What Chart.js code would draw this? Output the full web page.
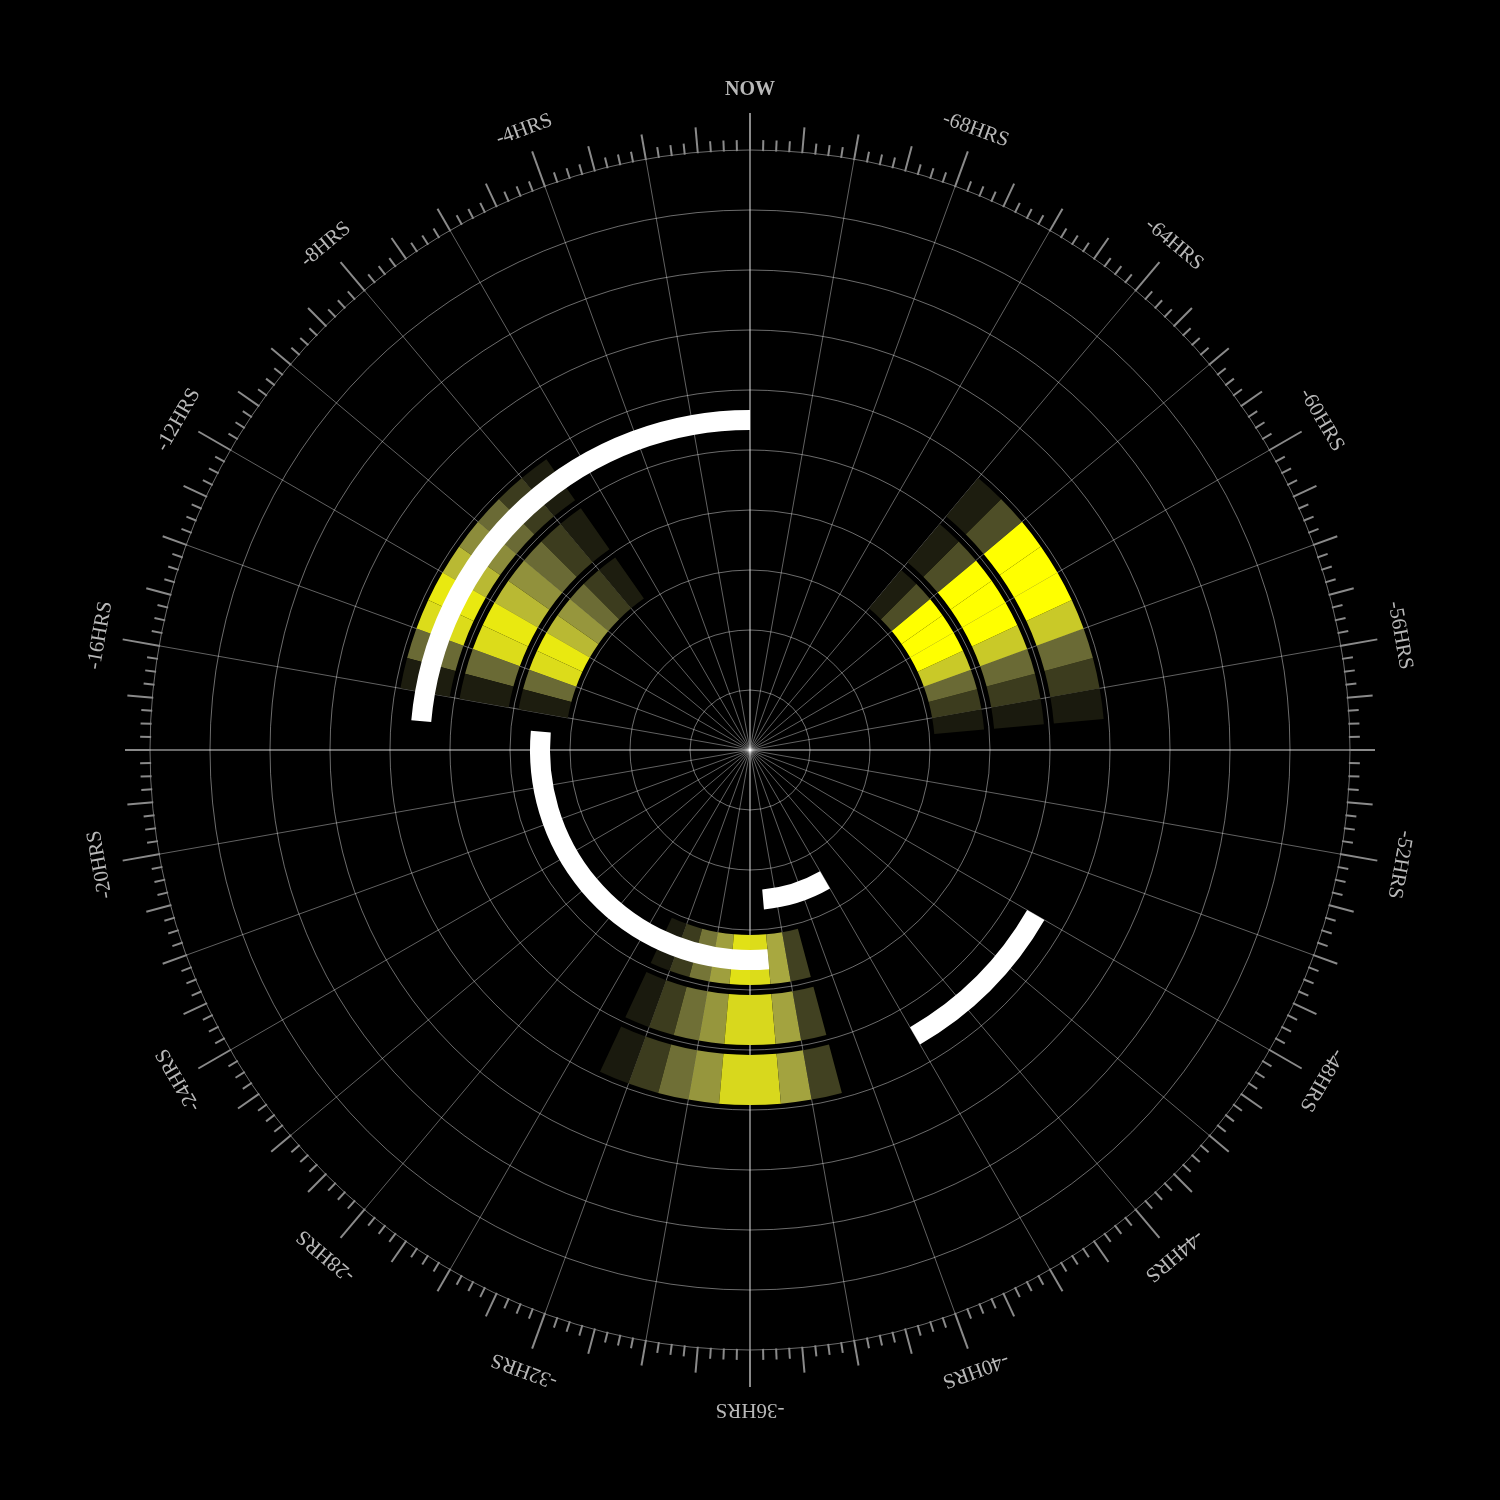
<!DOCTYPE html>
<html>
<head>
<meta charset="utf-8">
<title>72 hour clock</title>
<script src="https://cdn.jsdelivr.net/npm/chart.js@4.4.1/dist/chart.umd.min.js"></script>
<style>
  html, body { margin: 0; padding: 0; background: #000; }
  #wrap { width: 1500px; height: 1500px; }
</style>
</head>
<body>
<div id="wrap"><canvas id="clock"></canvas></div>
<script>
// one radar label per hour, going back 72 hours (time runs anticlockwise)
const HOURS = 72;
const hourLabels = ['NOW', '-4HRS', '-8HRS', '-12HRS', '-16HRS', '-20HRS', '-24HRS', '-28HRS', '-32HRS',
                    '-36HRS', '-40HRS', '-44HRS', '-48HRS', '-52HRS', '-56HRS', '-60HRS', '-64HRS', '-68HRS'];

// hours ago of each coloured cell (cell covers hour h .. h+1)
const cellHours = [7, 8, 9, 10, 11, 12, 13, 14, 15,
                   31, 32, 33, 34, 35, 36, 37, 38,
                   55, 56, 57, 58, 59, 60, 61, 62, 63];

// intensity 0..1 for the three rings, inner to outer
const innerRing  = [0.03, 0.15, 0.34, 0.52, 0.68, 0.90, 0.84, 0.33, 0.03,
                    0.02, 0.15, 0.38, 0.56, 0.86, 0.84, 0.60, 0.17,
                    0.02, 0.15, 0.33, 0.75, 1, 1, 1, 0.22, 0.03];
const middleRing = [0.03, 0.15, 0.33, 0.50, 0.68, 0.90, 0.84, 0.33, 0.03,
                    0.02, 0.15, 0.35, 0.52, 0.82, 0.82, 0.58, 0.17,
                    0.02, 0.15, 0.33, 0.75, 1, 1, 1, 0.22, 0.03];
const outerRing  = [0.03, 0.15, 0.33, 0.48, 0.68, 0.90, 0.84, 0.33, 0.03,
                    0.02, 0.15, 0.35, 0.52, 0.82, 0.82, 0.58, 0.17,
                    0.02, 0.15, 0.33, 0.75, 1, 1, 1, 0.22, 0.03];
const ringBase = [3, 4, 5]; // value on r scale where each ring starts

// white trace, stepped
const traceFrom  = [0, 17, 37, 42];
const traceTo    = [17, 37, 42, 48];
const traceLevel = [5.5, 3.5, 2.5, 5.5];

// colour stops: dark olive -> olive -> yellow
const stops = [
    [0, [21, 21, 11]],
    [0.33, [106, 106, 53]],
    [0.6, [168, 168, 64]],
    [1, [255, 255, 0]]
];

function heatColor(t) {
    for (let i = 1; i < stops.length; i++) {
        if (t <= stops[i][0]) {
            const [t0, c0] = stops[i - 1];
            const [t1, c1] = stops[i];
            const f = (t - t0) / (t1 - t0);
            const c = c0.map((v, k) => Math.round(v + (c1[k] - v) * f));
            return `rgb(${c[0]},${c[1]},${c[2]})`;
        }
    }
    return 'rgb(255,255,0)';
}

// canvas angle for a number of hours back
function hourAngle(scale, h) {
    return scale.getIndexAngle(0) - h * (2 * Math.PI / HOURS) - Math.PI / 2;
}

const clockFace = {
    id: 'clockFace',
    beforeDatasetsDraw(chart) {
        const r = chart.scales.r;
        const ctx = chart.ctx;
        const cx = r.xCenter, cy = r.yCenter;
        ctx.save();

        [innerRing, middleRing, outerRing].forEach((ring, ri) => {
            const r0 = r.getDistanceFromCenterForValue(ringBase[ri]) + 5;
            const r1 = r.getDistanceFromCenterForValue(ringBase[ri] + 1) - 5;
            ring.forEach((v, i) => {
                const a0 = hourAngle(r, cellHours[i]);
                const a1 = hourAngle(r, cellHours[i] + 1);
                ctx.beginPath();
                ctx.arc(cx, cy, r1, a0, a1, true);
                ctx.arc(cx, cy, r0, a1, a0, false);
                ctx.closePath();
                ctx.fillStyle = heatColor(v);
                ctx.fill();
            });
        });

        ctx.strokeStyle = '#ffffff';
        ctx.lineCap = 'butt';
        ctx.lineWidth = 20;
        traceLevel.forEach((lv, i) => {
            const rad = r.getDistanceFromCenterForValue(lv);
            ctx.beginPath();
            ctx.arc(cx, cy, rad, hourAngle(r, traceFrom[i]), hourAngle(r, traceTo[i]), true);
            ctx.stroke();
        });
        ctx.restore();
    },
    afterDraw(chart) {
        const r = chart.scales.r;
        const ctx = chart.ctx;
        const cx = r.xCenter, cy = r.yCenter;
        const base = r.getDistanceFromCenterForValue(r.max);
        ctx.save();

        // quarter hour ticks
        ctx.strokeStyle = '#8a8a8a';
        ctx.lineWidth = 2;
        for (let q = 0; q < HOURS * 4; q++) {
            const a = hourAngle(r, q / 4);
            const len = q % 16 === 0 ? 37 : (q % 4 === 0 ? 25 : 10);
            ctx.beginPath();
            ctx.moveTo(cx + Math.cos(a) * (base - 1), cy + Math.sin(a) * (base - 1));
            ctx.lineTo(cx + Math.cos(a) * (base + len), cy + Math.sin(a) * (base + len));
            ctx.stroke();
        }

        // rotated hour labels
        ctx.fillStyle = '#b8b8b8';
        ctx.textAlign = 'center';
        ctx.textBaseline = 'middle';
        hourLabels.forEach((txt, i) => {
            const a = hourAngle(r, i * 4);
            ctx.save();
            ctx.translate(cx + Math.cos(a) * (base + 60), cy + Math.sin(a) * (base + 60));
            ctx.rotate(a + Math.PI / 2);
            ctx.font = i === 0 ? 'bold 20px "Liberation Serif", "Times New Roman", serif'
                               : '21px "Liberation Serif", "Times New Roman", serif';
            ctx.fillText(txt, 0, 0);
            ctx.restore();
        });
        ctx.restore();
    }
};

// radar labels: index 0 = now, then clockwise = 71h ago, 70h ago ...
const radarLabels = [];
for (let i = 0; i < HOURS; i++) radarLabels.push(((HOURS - i) % HOURS) + 'h');

new Chart(document.getElementById('clock'), {
    type: 'radar',
    data: {
        labels: radarLabels,
        datasets: []
    },
    options: {
        responsive: true,
        maintainAspectRatio: false,
        animation: false,
        layout: { padding: 150 },
        plugins: {
            legend: { display: false },
            tooltip: { enabled: false }
        },
        scales: {
            r: {
                min: 0,
                max: 10,
                startAngle: 0,
                ticks: { display: false, stepSize: 1 },
                grid: { circular: true, color: 'rgba(255,255,255,0.42)', lineWidth: 1 },
                angleLines: {
                    color: (ctx) => ctx.index % 2 === 0 ? (ctx.index % 18 === 0 ? 'rgba(255,255,255,0.55)' : 'rgba(255,255,255,0.38)') : 'transparent',
                    lineWidth: (ctx) => ctx.index % 18 === 0 ? 1.6 : 1
                },
                pointLabels: { display: false }
            }
        }
    },
    plugins: [clockFace]
});
</script>
</body>
</html>
